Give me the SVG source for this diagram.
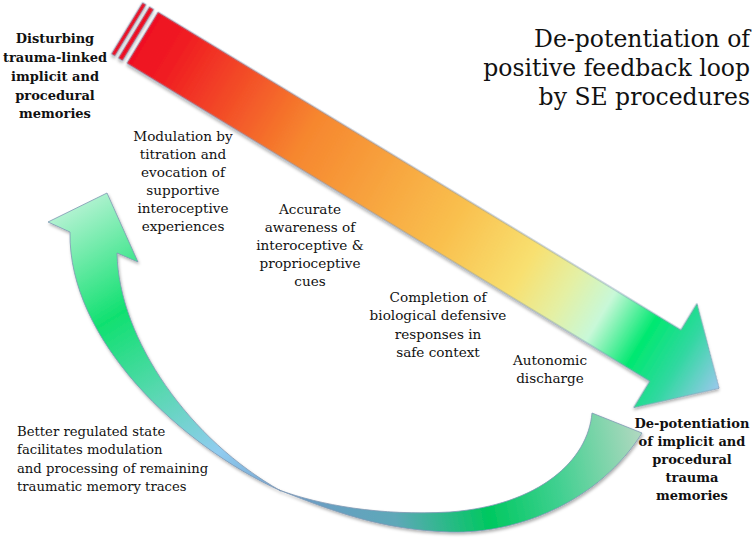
<svg xmlns="http://www.w3.org/2000/svg" width="756" height="540" viewBox="0 0 756 540">
  <defs>
    <linearGradient id="gMain" gradientUnits="userSpaceOnUse" x1="-18" y1="0" x2="675" y2="0">
      <stop offset="0" stop-color="#ee0a22"/>
      <stop offset="0.08" stop-color="#f01c22"/>
      <stop offset="0.30" stop-color="#f6862e"/>
      <stop offset="0.55" stop-color="#f9c04e"/>
      <stop offset="0.67" stop-color="#f8e070"/>
      <stop offset="0.74" stop-color="#e4f0a4"/>
      <stop offset="0.80" stop-color="#c8f8d8"/>
      <stop offset="0.87" stop-color="#00e870"/>
      <stop offset="0.93" stop-color="#30d8a0"/>
      <stop offset="1" stop-color="#9ac8ec"/>
    </linearGradient>
    <linearGradient id="gLeft" gradientUnits="userSpaceOnUse" x1="95" y1="195" x2="275" y2="490">
      <stop offset="0" stop-color="#b0f2d0"/>
      <stop offset="0.33" stop-color="#10e070"/>
      <stop offset="0.58" stop-color="#58d8b0"/>
      <stop offset="0.82" stop-color="#90ccf0"/>
      <stop offset="1" stop-color="#78a6d0"/>
    </linearGradient>
    <linearGradient id="gRight" gradientUnits="userSpaceOnUse" x1="280" y1="500" x2="640" y2="430">
      <stop offset="0" stop-color="#6e9ac8"/>
      <stop offset="0.3" stop-color="#5ea8b8"/>
      <stop offset="0.55" stop-color="#00c860"/>
      <stop offset="0.75" stop-color="#40d090"/>
      <stop offset="1" stop-color="#b0d8c0"/>
    </linearGradient>
    <filter id="sh" x="-10%" y="-10%" width="120%" height="120%">
      <feDropShadow dx="1" dy="2" stdDeviation="1.5" flood-color="#000" flood-opacity="0.3"/>
    </filter>
    <style>
      .lbl { font-family: "DejaVu Serif", "Liberation Serif", serif; font-size: 13.6px; fill: #111; text-anchor: middle; }
      .bold { font-family: "DejaVu Serif", "Liberation Serif", serif; font-size: 13px; font-weight: bold; fill: #111; text-anchor: middle; }
      .title { font-family: "DejaVu Serif", "Liberation Serif", serif; font-size: 23.5px; fill: #111; text-anchor: end; }
      .note { font-family: "DejaVu Serif", "Liberation Serif", serif; font-size: 13.2px; fill: #111; }
      .edge { stroke: #7f98b4; stroke-width: 0.8; }
    </style>
  </defs>

  <g id="connectors">
    <g id="main-arrow" transform="translate(158,12) rotate(31.3)" filter="url(#sh)">
      <rect x="-18" y="0" width="4" height="60" fill="url(#gMain)" class="edge"/>
      <rect x="-10" y="0" width="5" height="60" fill="url(#gMain)" class="edge"/>
      <path d="M0,0 L612,0 L612,-31 L675,30 L612,91 L612,60 L0,60 Z" fill="url(#gMain)" class="edge"/>
    </g>
    <g id="loop-arrow" filter="url(#sh)">
      <path d="M107,193 L138,262 L117,253 C119,340 190,440 281,491 C180,445 68,340 70,232 L48,222 Z" fill="url(#gLeft)" class="edge"/>
      <path d="M279,490 C330,510 380,530 450,532 C520,534 600,500 642,433 L592,413 C588,460 540,505 450,512 C380,516 320,505 279,490 Z" fill="url(#gRight)" class="edge"/>
    </g>
  </g>

  <g id="title">
    <text class="title" x="750" y="47">De-potentiation of</text>
    <text class="title" x="750" y="76">positive feedback loop</text>
    <text class="title" x="750" y="105">by SE procedures</text>
  </g>

  <g id="node-disturbing">
    <text class="bold" x="55" y="43">Disturbing</text>
    <text class="bold" x="55" y="62">trauma-linked</text>
    <text class="bold" x="55" y="81">implicit and</text>
    <text class="bold" x="55" y="99.5">procedural</text>
    <text class="bold" x="55" y="117.5">memories</text>
  </g>

  <g id="node-modulation">
    <text class="lbl" x="183" y="141">Modulation by</text>
    <text class="lbl" x="183" y="159">titration and</text>
    <text class="lbl" x="183" y="177">evocation of</text>
    <text class="lbl" x="183" y="195">supportive</text>
    <text class="lbl" x="183" y="213">interoceptive</text>
    <text class="lbl" x="183" y="231">experiences</text>
  </g>

  <g id="node-accurate">
    <text class="lbl" x="310" y="214">Accurate</text>
    <text class="lbl" x="310" y="232">awareness of</text>
    <text class="lbl" x="310" y="250">interoceptive &amp;</text>
    <text class="lbl" x="310" y="268">proprioceptive</text>
    <text class="lbl" x="310" y="286">cues</text>
  </g>

  <g id="node-completion">
    <text class="lbl" x="438" y="302">Completion of</text>
    <text class="lbl" x="438" y="320">biological defensive</text>
    <text class="lbl" x="438" y="338.5">responses in</text>
    <text class="lbl" x="438" y="357">safe context</text>
  </g>

  <g id="node-autonomic">
    <text class="lbl" x="550" y="365">Autonomic</text>
    <text class="lbl" x="550" y="383">discharge</text>
  </g>

  <g id="node-better">
    <text class="note" x="17" y="436">Better regulated state</text>
    <text class="note" x="17" y="454">facilitates modulation</text>
    <text class="note" x="17" y="473">and processing of remaining</text>
    <text class="note" x="17" y="491">traumatic memory traces</text>
  </g>

  <g id="node-depotentiation">
    <text class="bold" x="692" y="428">De-potentiation</text>
    <text class="bold" x="692" y="446">of implicit and</text>
    <text class="bold" x="692" y="464">procedural</text>
    <text class="bold" x="692" y="482">trauma</text>
    <text class="bold" x="692" y="500">memories</text>
  </g>
</svg>
